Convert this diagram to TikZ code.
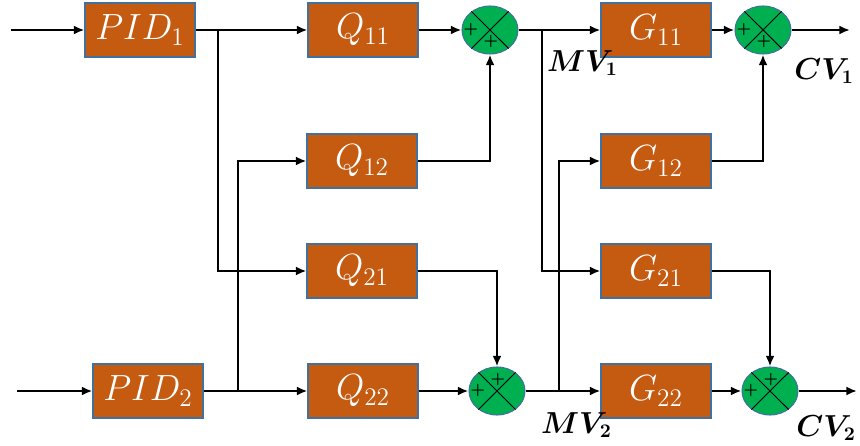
\documentclass[tikz,border=0pt]{standalone}
\usepackage{amsmath}
\usepackage{bm}
\usetikzlibrary{shapes.geometric,arrows.meta}
\tikzset{>={Latex[length=6pt,width=5pt]}}
\definecolor{blockfill}{HTML}{C55A11}
\definecolor{edgecol}{HTML}{41719C}
\definecolor{sumfill}{HTML}{00B050}
\tikzstyle{block}=[draw=edgecol,fill=blockfill,line width=0.6pt,minimum width=2.2cm,minimum height=1.08cm,text=white,font=\fontsize{20}{22}\selectfont]
\tikzstyle{sum}=[ellipse,draw=edgecol,fill=sumfill,line width=0.6pt,minimum width=1.12cm,minimum height=0.96cm,inner sep=0pt]
\tikzstyle{signal}=[line width=1.3pt,->]
\tikzstyle{tag}=[font=\fontsize{16}{18}\selectfont,inner sep=1pt]

\begin{document}
\begin{tikzpicture}[x={(0.02cm,0)},y={(0,-0.02cm)}]
  \useasboundingbox (0,0) rectangle (860,446);
  % controllers and decouplers
  \node[block] (PID1) at (140,30) {$PID_1$};
  \node[block] (PID2) at (148,391) {$PID_2$};
  \node[block] (Q11) at (363,30) {$Q_{11}$};
  \node[block] (Q12) at (362,161) {$Q_{12}$};
  \node[block] (Q21) at (362,271) {$Q_{21}$};
  \node[block] (Q22) at (363,391) {$Q_{22}$};
  % plant
  \node[block] (G11) at (656,30) {$G_{11}$};
  \node[block] (G12) at (656,161) {$G_{12}$};
  \node[block] (G21) at (656,271) {$G_{21}$};
  \node[block] (G22) at (656,391) {$G_{22}$};
  % summing points
  \node[sum] (S1) at (490,30) {};
  \node[sum] (S2) at (763,30) {};
  \node[sum] (S3) at (497,391) {};
  \node[sum] (S4) at (770,391) {};
  \foreach \s/\dy in {S1/12,S2/12,S3/-11,S4/-11}{
    \draw[line width=0.6pt] (\s.45) -- (\s.225) (\s.135) -- (\s.315);
    \node[font=\fontsize{9}{9}\selectfont,inner sep=0pt] at ([shift={(-19,0)}]\s.center) {$\bm{+}$};
    \node[font=\fontsize{9}{9}\selectfont,inner sep=0pt] at ([shift={(1,\dy)}]\s.center) {$\bm{+}$};
  }
  \coordinate (in1) at (11,30);
  \coordinate (in2) at (17,391);
  \coordinate (b1) at (218,30);
  \coordinate (b2) at (238,391);
  \coordinate (m1) at (542,30);
  \coordinate (m2) at (559,391);
  \coordinate (out1) at (850,30);
  \coordinate (out2) at (857,391);
  % connections
  \draw[signal] (in1) -- (PID1);
  \draw[signal] (PID1) -- (Q11);
  \draw[signal] (b1) |- (Q21);
  \draw[signal] (in2) -- (PID2);
  \draw[signal] (PID2) -- (Q22);
  \draw[signal] (b2) |- (Q12);
  \draw[signal] (Q11) -- (S1);
  \draw[signal] (Q12) -| (S1);
  \draw[signal] (Q21) -| (S3);
  \draw[signal] (Q22) -- (S3);
  \draw[signal] (S1) -- (G11);
  \draw[signal] (m1) |- (G21);
  \draw[signal] (S3) -- (G22);
  \draw[signal] (m2) |- (G12);
  \draw[signal] (G11) -- (S2);
  \draw[signal] (G12) -| (S2);
  \draw[signal] (G21) -| (S4);
  \draw[signal] (G22) -- (S4);
  \draw[signal] (S2) -- (out1);
  \draw[signal] (S4) -- (out2);
  % signal names
  \node[tag,anchor=west] (MV1) at (545,63) {$\bm{MV_1}$};
  \node[tag,anchor=east] (CV1) at (856,71) {$\bm{CV_1}$};
  \node[tag,anchor=west] (MV2) at (539,425) {$\bm{MV_2}$};
  \node[tag,anchor=east] (CV2) at (858,428) {$\bm{CV_2}$};
\end{tikzpicture}
\end{document}
